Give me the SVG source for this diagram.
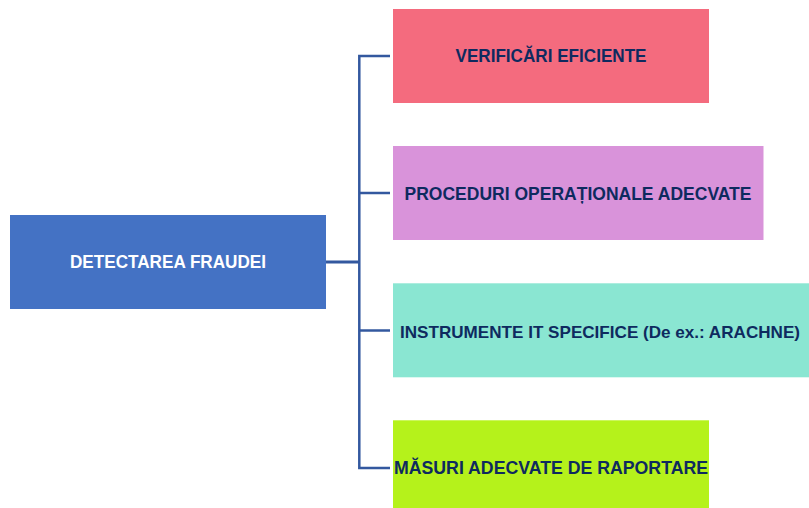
<svg xmlns="http://www.w3.org/2000/svg" width="809" height="508" viewBox="0 0 809 508">
<style>
.t{font-family:"Liberation Sans",Arial,sans-serif;font-weight:bold;font-size:18.5px;fill:#0E2A5F;text-anchor:middle}
.w{fill:#FFFFFF}
.c{fill:none;stroke:#33589F;stroke-width:2.5}
</style>
<rect width="809" height="508" fill="#FFFFFF"/>
<g id="connectors">
<line class="c" x1="326" y1="262" x2="359.3" y2="262" style="stroke-width:3"/>
<polyline class="c" points="390,56 359.3,56 359.3,468 390,468"/>
<line class="c" x1="359.3" y1="193" x2="390" y2="193"/>
<line class="c" x1="359.3" y1="330.5" x2="390" y2="330.5"/>
</g>
<g id="detectarea">
<rect x="10" y="215" width="316" height="94" fill="#4472C4"/>
<text class="t w" x="168" y="268" textLength="196" lengthAdjust="spacingAndGlyphs">DETECTAREA FRAUDEI</text>
</g>
<g id="verificari">
<rect x="393" y="9" width="316" height="94" fill="#F46B7E"/>
<text class="t" x="551" y="62" textLength="191" lengthAdjust="spacingAndGlyphs">VERIFICĂRI EFICIENTE</text>
</g>
<g id="proceduri">
<rect x="393" y="146" width="370.5" height="94" fill="#D993DA"/>
<text class="t" x="578" y="200" textLength="347" lengthAdjust="spacingAndGlyphs">PROCEDURI OPERAȚIONALE ADECVATE</text>
</g>
<g id="instrumente">
<rect x="393" y="283.3" width="430" height="94" fill="#8AE6D2"/>
<text class="t" x="400" y="338" style="text-anchor:start;font-size:17px" textLength="400" lengthAdjust="spacingAndGlyphs">INSTRUMENTE IT SPECIFICE (De ex.: ARACHNE)</text>
</g>
<g id="masuri">
<rect x="393" y="420.3" width="316" height="94" fill="#B5F21B"/>
<text class="t" x="551" y="474" textLength="314" lengthAdjust="spacingAndGlyphs">MĂSURI ADECVATE DE RAPORTARE</text>
</g>
</svg>
